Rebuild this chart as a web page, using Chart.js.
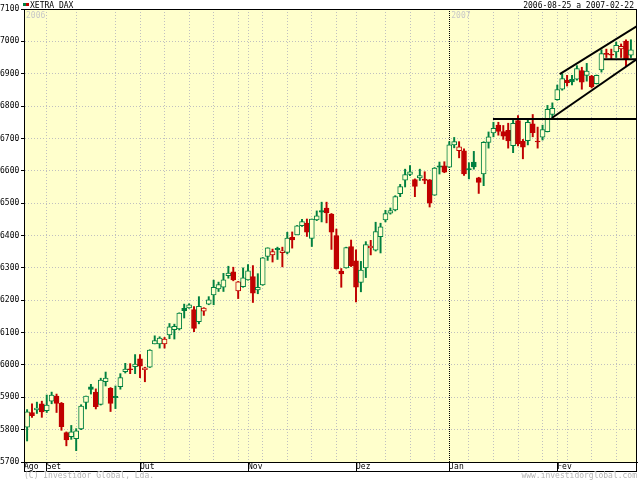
<!DOCTYPE html>
<html>
<head>
<meta charset="utf-8">
<title>XETRA DAX</title>
<script src="https://cdn.jsdelivr.net/npm/chart.js@4.4.0/dist/chart.umd.min.js"></script>
<style>
  html, body { margin: 0; padding: 0; background: #ffffff; }
</style>
</head>
<body>
<canvas id="candleChart" width="640" height="480"></canvas>
<script>
// daily candles, 2006-08-25 .. 2007-02-22 (one entry per trading day)
const openPrices = [
  5820, 5808, 5853, 5861, 5880, 5859, 5888, 5904, 5881, 5791,
  5778, 5772, 5802, 5884, 5932, 5916, 5878, 5948, 5928, 5903,
  5933, 5979, 5988, 5995, 6019, 5985, 5993, 6065, 6065, 6065,
  6093, 6109, 6111, 6175, 6176, 6171, 6134, 6166, 6188, 6216,
  6235, 6240, 6276, 6288, 6229, 6242, 6263, 6273, 6232, 6247,
  6335, 6340, 6360, 6347, 6348, 6394, 6402, 6430, 6438, 6391,
  6448, 6477, 6485, 6466, 6400, 6290, 6300, 6366, 6322, 6255,
  6300, 6362, 6355, 6396, 6448, 6469, 6479, 6529, 6571, 6589,
  6573, 6578, 6574, 6572, 6525, 6615, 6615, 6611, 6680, 6662,
  6662, 6607, 6627, 6578, 6590, 6688, 6717, 6741, 6721, 6725,
  6678, 6755, 6691, 6693, 6745, 6692, 6704, 6721, 6774, 6820,
  6852, 6880, 6883, 6883, 6910, 6895, 6892, 6869, 6912, 6963,
  6960, 6967, 6977, 7001, 6957
];
const highPrices = [
  5825, 5862, 5880, 5885, 5888, 5907, 5916, 5910, 5884, 5793,
  5813, 5803, 5877, 5904, 5940, 5926, 5959, 5978, 5930, 5935,
  5973, 6005, 6004, 6032, 6032, 5993, 6047, 6090, 6087, 6085,
  6128, 6126, 6161, 6188, 6189, 6180, 6211, 6177, 6211, 6262,
  6256, 6283, 6305, 6302, 6258, 6300, 6310, 6307, 6282, 6332,
  6362, 6358, 6364, 6364, 6410, 6411, 6431, 6450, 6451, 6451,
  6476, 6503, 6503, 6468, 6420, 6298, 6364, 6386, 6356, 6320,
  6381, 6385, 6441, 6438, 6478, 6485, 6523, 6558, 6605, 6616,
  6575, 6605, 6597, 6573, 6610, 6627, 6628, 6690, 6703, 6690,
  6668, 6625, 6660, 6580, 6690, 6720, 6750, 6750, 6740, 6747,
  6757, 6771, 6697, 6757, 6774, 6735, 6741, 6802, 6810, 6865,
  6900, 6895, 6895, 6925, 6920, 6932, 6895, 6896, 6974, 6976,
  6976, 6998, 6992, 7005, 7005
];
const lowPrices = [
  5805, 5765, 5838, 5850, 5838, 5853, 5880, 5853, 5798, 5750,
  5770, 5735, 5800, 5864, 5910, 5864, 5876, 5935, 5856, 5865,
  5925, 5975, 5973, 5973, 5961, 5948, 5992, 6065, 6052, 6052,
  6081, 6080, 6108, 6145, 6175, 6103, 6127, 6153, 6186, 6186,
  6227, 6227, 6268, 6260, 6205, 6240, 6262, 6193, 6220, 6246,
  6323, 6318, 6326, 6303, 6343, 6361, 6402, 6428, 6397, 6366,
  6446, 6442, 6439, 6357, 6296, 6240, 6299, 6304, 6195, 6226,
  6270, 6340, 6352, 6346, 6442, 6466, 6476, 6520, 6550, 6585,
  6520, 6570, 6560, 6488, 6524, 6590, 6594, 6610, 6671, 6640,
  6586, 6575, 6605, 6530, 6554, 6670, 6705, 6710, 6697, 6670,
  6656, 6677, 6637, 6680, 6705, 6670, 6695, 6720, 6762, 6818,
  6849, 6862, 6865, 6880, 6852, 6877, 6856, 6868, 6905, 6950,
  6944, 6950, 6950, 6922, 6950
];
const closePrices = [
  5812, 5855, 5843, 5867, 5855, 5876, 5907, 5881, 5809, 5768,
  5793, 5796, 5873, 5904, 5924, 5871, 5953, 5959, 5881, 5899,
  5961, 5987, 5985, 6003, 5996, 5991, 6046, 6075, 6083, 6080,
  6118, 6119, 6160, 6168, 6186, 6113, 6181, 6176, 6201, 6240,
  6248, 6263, 6284, 6263, 6257, 6269, 6291, 6222, 6240, 6331,
  6362, 6350, 6356, 6353, 6392, 6386, 6430, 6443, 6410, 6451,
  6461, 6472, 6470, 6410, 6297, 6281, 6363, 6307, 6240, 6293,
  6372, 6367, 6412, 6427, 6468, 6477, 6520, 6551, 6588, 6597,
  6552, 6585, 6570, 6500, 6608, 6611, 6596, 6680, 6690, 6674,
  6590, 6603, 6612, 6564, 6688, 6705, 6731, 6722, 6707, 6692,
  6747, 6683, 6673, 6750, 6718, 6689, 6727, 6790, 6793, 6851,
  6885, 6872, 6875, 6916, 6874, 6908, 6860, 6895, 6962, 6960,
  6957, 6988, 6985, 6946, 6974
];

// x axis: trading-day index of each month start and of each week start
const monthLabels = ["Ago", "Set", "Out", "Nov", "Dez", "Jan", "Fev"];
const monthStarts = [0.37, 5, 24, 46, 68, 87, 109];
const weekStarts = [11, 19, 29, 34, 39, 44, 49, 54, 59, 64, 74, 79, 84, 91, 96, 101, 106, 111, 116, 121];
const yearLabels = ["2006", "2007"];
const yearStarts = [0.37, 87];
const firstDay = 0.37;
const lastDay = 125.24;

// y axis
const priceMin = 5700;
const priceMax = 7100;
const priceStep = 100;

// hand drawn trend lines (day index, price)
const supportLine = [{ x: 95.9, y: 6760 }, { x: 125.24, y: 6760 }];
const channelLow = [{ x: 107.9, y: 6763 }, { x: 125.24, y: 6945 }];
const channelHigh = [{ x: 109.5, y: 6899 }, { x: 125.24, y: 7047 }];
const breakLine = [{ x: 118.5, y: 6945 }, { x: 125.24, y: 6945 }];

const GREEN = "#008040";
const RED = "#c00000";
const PLOT_BG = "#ffffcc";
const MONO = "DejaVu Sans Mono";

function candleColor(i) {
  return i > 0 && closePrices[i] >= closePrices[i - 1] ? GREEN : RED;
}

function isFilled(i) {
  return closePrices[i] < openPrices[i];
}

const wickData = lowPrices.map((low, i) => ({ x: i, y: [low, highPrices[i]] }));
const bodyData = openPrices.map((open, i) => ({
  x: i,
  y: [Math.min(open, closePrices[i]), Math.max(open, closePrices[i])],
}));

const frame = {
  id: "frame",
  beforeDraw(chart) {
    const { ctx, chartArea } = chart;
    ctx.save();
    ctx.fillStyle = PLOT_BG;
    ctx.fillRect(chartArea.left, chartArea.top, chartArea.right - chartArea.left, chartArea.bottom - chartArea.top);
    ctx.restore();
  },
  afterDraw(chart) {
    const { ctx, chartArea } = chart;
    const x = chart.scales.x;
    ctx.save();

    // year marks inside the plot
    ctx.font = "8px " + MONO;
    ctx.fillStyle = "#c8c8c8";
    ctx.textBaseline = "top";
    ctx.textAlign = "left";
    yearLabels.forEach((label, k) => {
      ctx.fillText(label, x.getPixelForValue(yearStarts[k]) + 2, chartArea.top + 3);
    });

    // outer frame and the month strip under the x axis
    ctx.strokeStyle = "#000";
    ctx.lineWidth = 1;
    ctx.strokeRect(chartArea.left + 0.5, chartArea.top + 0.5, chartArea.right - chartArea.left - 1, 471 - chartArea.top);

    // header
    ctx.fillStyle = GREEN;
    ctx.fillRect(23, 3, 3, 3);
    ctx.fillStyle = RED;
    ctx.fillRect(26, 3, 3, 3);
    ctx.fillStyle = "#000";
    ctx.textBaseline = "alphabetic";
    ctx.fillText("XETRA DAX", 30, 8);
    ctx.textAlign = "right";
    ctx.fillText("2006-08-25 a 2007-02-22", 634, 8);

    // footer
    ctx.fillStyle = "#b4b4b4";
    ctx.textBaseline = "top";
    ctx.textAlign = "left";
    ctx.fillText("(C) Investidor Global, Lda.", 24, 472);
    ctx.textAlign = "right";
    ctx.fillText("www.investidorglobal.com", 637, 472);
    ctx.restore();
  },
};

function trend(data) {
  return {
    type: "line",
    data: data,
    borderColor: "#000",
    borderWidth: 2,
    pointRadius: 0,
    fill: false,
    order: 0,
  };
}

function createChart() {
  const ctx = document.getElementById("candleChart").getContext("2d");
  const tickValues = monthStarts.concat(weekStarts).sort((a, b) => a - b);

  new Chart(ctx, {
    type: "bar",
    data: {
      datasets: [
        {
          label: "wick",
          data: wickData,
          grouped: false,
          barThickness: 1.3,
          backgroundColor: (c) => candleColor(c.dataIndex),
          borderWidth: 0,
          order: 2,
        },
        {
          label: "body",
          data: bodyData,
          grouped: false,
          barThickness: 5,
          minBarLength: 1,
          backgroundColor: (c) => (isFilled(c.dataIndex) ? candleColor(c.dataIndex) : PLOT_BG),
          borderColor: (c) => candleColor(c.dataIndex),
          borderWidth: 1,
          borderSkipped: false,
          order: 1,
        },
        trend(supportLine),
        trend(channelLow),
        trend(channelHigh),
        trend(breakLine),
      ],
    },
    options: {
      responsive: false,
      animation: false,
      events: [],
      layout: { padding: { top: 9, right: 3, bottom: 0, left: 0 } },
      plugins: {
        legend: { display: false },
        tooltip: { enabled: false },
      },
      scales: {
        x: {
          type: "linear",
          offset: false,
          min: firstDay,
          max: lastDay,
          afterBuildTicks: (scale) => {
            scale.ticks = tickValues.map((v) => ({ value: v }));
          },
          afterFit: (scale) => {
            scale.height = 18;
          },
          grid: {
            offset: false,
            color: (c) => (c.tick && c.tick.value === 87 ? "#000" : "#c0c0c0"),
            tickColor: (c) => (c.tick && monthStarts.includes(c.tick.value) ? "#000" : "rgba(0,0,0,0)"),
            tickLength: 9,
            tickBorderDash: [],
          },
          border: {
            color: "#000",
            dash: (c) => (c.tick && c.tick.value === 87 ? [1, 1] : [1, 2]),
          },
          ticks: {
            autoSkip: false,
            maxRotation: 0,
            align: "start",
            padding: -9,
            color: "#000",
            font: { family: MONO, size: 8 },
            callback: (value) => {
              const k = monthStarts.indexOf(value);
              return k >= 0 ? monthLabels[k] : "";
            },
          },
        },
        y: {
          min: priceMin,
          max: priceMax,
          afterFit: (scale) => {
            scale.width = 24;
          },
          grid: {
            color: "#c0c0c0",
            tickColor: "#000",
            tickLength: 3,
            tickBorderDash: [],
          },
          border: { color: "#000", dash: [1, 2] },
          ticks: {
            stepSize: priceStep,
            padding: 1,
            crossAlign: "far",
            color: "#000",
            font: { family: MONO, size: 8 },
            callback: (value) => String(value),
          },
        },
      },
    },
    plugins: [frame],
  });
}

createChart();
</script>
</body>
</html>
